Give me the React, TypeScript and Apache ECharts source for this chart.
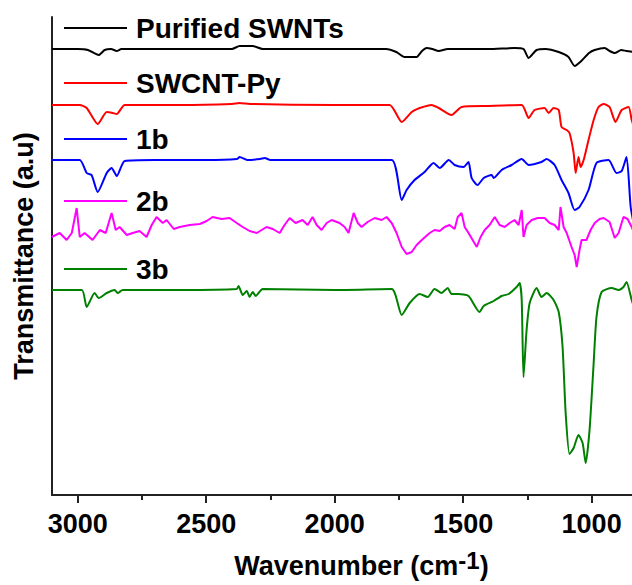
import React, { useEffect, useRef } from "react";
import * as echarts from "echarts";

// Series names (legend order)
const seriesNames = ["Purified SWNTs", "SWCNT-Py", "1b", "2b", "3b"];
const seriesColors = ["#000000", "#ff0000", "#0000ff", "#ff00ff", "#008000"];

// x-axis tick labels (wavenumber, cm-1)
const majorTicks = [1000, 1500, 2000, 2500, 3000];
const minorTicks = [1250, 1750, 2250, 2750];

// Spectra: [wavenumber, transmittance (a.u., offset)]
const purifiedSWNTs = [
  [3100, 446], [3000, 446], [2960, 445], [2918, 440], [2895, 445], [2870, 446], [2848, 444],
  [2830, 446], [2600, 446], [2400, 446], [2370, 449], [2319, 449], [2280, 446], [2000, 446],
  [1800, 446], [1760, 443], [1728, 438], [1681, 438], [1660, 444], [1642, 447], [1620, 446],
  [1595, 444], [1560, 446], [1400, 446], [1300, 447], [1265, 446], [1245, 437], [1214, 445],
  [1180, 446], [1128, 443], [1090, 438], [1066, 429], [1040, 434], [1010, 442], [988, 445],
  [949, 447], [930, 444], [910, 442], [885, 445], [864, 444], [835, 443],
];

const swcntPy = [
  [3100, 390], [2992, 390], [2965, 387], [2922, 371], [2887, 383], [2864, 382], [2848, 381],
  [2817, 390], [2600, 390], [2400, 391], [2370, 392], [2330, 391], [2000, 390], [1786, 390],
  [1739, 373], [1700, 383], [1669, 387], [1642, 389], [1623, 390], [1595, 387], [1545, 380],
  [1506, 388], [1400, 389], [1272, 390], [1245, 377], [1222, 385], [1183, 387], [1167, 382],
  [1148, 387], [1128, 385], [1117, 368], [1097, 365], [1086, 362], [1070, 342], [1062, 322],
  [1051, 338], [1043, 328], [1031, 335], [1012, 355], [992, 375], [973, 388], [953, 391],
  [930, 388], [907, 373], [883, 385], [856, 388], [844, 375], [835, 368],
];

const compound1b = [
  [3100, 335], [2992, 335], [2965, 322], [2946, 320], [2922, 303], [2887, 322], [2868, 327],
  [2848, 319], [2817, 334], [2700, 335], [2500, 335], [2380, 336], [2370, 338], [2340, 335],
  [2290, 336], [2272, 337], [2250, 335], [2000, 335], [1778, 335], [1739, 295], [1720, 305],
  [1689, 315], [1650, 323], [1615, 332], [1591, 327], [1556, 335], [1533, 330], [1498, 328],
  [1479, 333], [1467, 317], [1444, 310], [1420, 317], [1389, 320], [1381, 317], [1350, 325],
  [1311, 330], [1272, 336], [1245, 330], [1195, 333], [1175, 336], [1144, 330], [1117, 315],
  [1090, 302], [1066, 285], [1047, 288], [1012, 305], [981, 332], [934, 335], [903, 322],
  [883, 324], [864, 338], [848, 288], [835, 270],
];

const compound2b = [
  [3101, 258], [3070, 262], [3043, 255], [3023, 262], [3004, 287], [2992, 258], [2973, 262],
  [2942, 255], [2914, 265], [2891, 262], [2868, 282], [2852, 265], [2837, 268], [2809, 260],
  [2786, 262], [2759, 264], [2732, 258], [2712, 270], [2693, 278], [2669, 272], [2654, 275],
  [2626, 266], [2603, 268], [2564, 270], [2525, 271], [2498, 274], [2475, 278], [2440, 276],
  [2409, 277], [2381, 272], [2358, 268], [2331, 264], [2303, 262], [2284, 265], [2265, 268],
  [2241, 266], [2214, 262], [2195, 270], [2175, 277], [2152, 272], [2125, 275], [2105, 270],
  [2086, 278], [2070, 270], [2051, 265], [2031, 272], [2012, 275], [1981, 272], [1961, 268],
  [1946, 262], [1926, 282], [1910, 272], [1895, 268], [1872, 273], [1844, 277], [1817, 275],
  [1798, 278], [1778, 272], [1759, 262], [1739, 248], [1720, 241], [1700, 243], [1681, 250],
  [1661, 255], [1630, 262], [1611, 265], [1591, 264], [1572, 268], [1553, 270], [1533, 266],
  [1521, 278], [1506, 282], [1494, 268], [1479, 262], [1463, 255], [1447, 248], [1432, 258],
  [1416, 265], [1397, 270], [1377, 278], [1358, 270], [1338, 268], [1319, 272], [1300, 275],
  [1284, 270], [1272, 285], [1265, 258], [1253, 270], [1233, 275], [1210, 277], [1183, 277],
  [1163, 272], [1144, 270], [1128, 265], [1121, 288], [1109, 268], [1097, 262], [1078, 248],
  [1066, 240], [1058, 228], [1047, 245], [1039, 255], [1020, 255], [1004, 265], [988, 272],
  [969, 276], [953, 277], [930, 273], [910, 257], [895, 262], [876, 278], [860, 276],
  [844, 268], [835, 262],
];

const compound3b = [
  [3100, 205], [2984, 205], [2965, 188], [2934, 202], [2918, 197], [2887, 202], [2856, 205],
  [2844, 202], [2825, 205], [2600, 205], [2381, 206], [2374, 209], [2358, 200], [2342, 204],
  [2331, 198], [2319, 203], [2307, 199], [2280, 206], [2000, 205], [1778, 206], [1739, 180],
  [1708, 192], [1669, 201], [1638, 198], [1611, 206], [1584, 202], [1560, 207], [1545, 201],
  [1518, 201], [1479, 199], [1436, 183], [1420, 189], [1381, 194], [1350, 199], [1323, 201],
  [1292, 208], [1280, 212], [1272, 195], [1265, 118], [1253, 165], [1241, 192], [1214, 207],
  [1195, 198], [1175, 202], [1148, 195], [1128, 183], [1113, 148], [1101, 82], [1086, 41],
  [1070, 47], [1051, 60], [1035, 52], [1023, 32], [1008, 65], [992, 132], [981, 178],
  [961, 203], [922, 207], [895, 205], [876, 208], [864, 213], [844, 195], [835, 188],
];

const seriesData = [purifiedSWNTs, swcntPy, compound1b, compound2b, compound3b];
const legendTops = [14, 69, 125, 187, 255];

const FONT = "Arial, 'Liberation Sans', sans-serif";

export default function App() {
  const ref = useRef<HTMLDivElement>(null);
  useEffect(() => {
    if (!ref.current) return;
    const chart = echarts.init(ref.current, undefined, { renderer: "svg" });
    const legends = seriesNames.map((n, i) => ({
      show: true,
      data: [n],
      left: 64,
      top: legendTops[i],
      padding: 0,
      orient: "horizontal",
      icon: "rect",
      itemWidth: 63,
      itemHeight: 2,
      selectedMode: false,
      textStyle: {
        fontSize: 28,
        fontWeight: "bold",
        fontFamily: FONT,
        color: "#000",
        lineHeight: 28,
        padding: [0, 0, 0, 4],
      },
    }));
    const option: any = {
      animation: false,
      backgroundColor: "#ffffff",
      legend: legends,
      grid: {
        left: 52,
        right: -11,
        top: 17,
        bottom: 90,
        containLabel: false,
        outerBoundsMode: "none",
      },
      xAxis: [
        {
          type: "value",
          min: 800,
          max: 3100,
          inverse: true,
          position: "bottom",
          name: "{a|Wavenumber (cm}{s|-1}{a|)}",
          nameLocation: "middle",
          nameGap: 56,
          nameTextStyle: {
            padding: [0, 0, 0, 28],
            rich: {
              a: { fontSize: 27, fontWeight: "bold", fontFamily: FONT, color: "#000", lineHeight: 30 },
              s: { fontSize: 24, fontWeight: "bold", fontFamily: FONT, color: "#000", lineHeight: 24, padding: [0, 0, 11, 0] },
            },
          },
          axisLine: { show: true, lineStyle: { color: "#222", width: 2 } },
          axisTick: { show: true, inside: false, length: 8, customValues: majorTicks, lineStyle: { color: "#222", width: 2 } },
          axisLabel: {
            show: true,
            customValues: majorTicks,
            formatter: (v: number) => String(v),
            margin: 15,
            fontSize: 27,
            fontWeight: "bold",
            fontFamily: FONT,
            color: "#000",
          },
          splitLine: { show: false },
        },
        {
          type: "value",
          min: 800,
          max: 3100,
          inverse: true,
          position: "bottom",
          axisLine: { show: false },
          axisTick: { show: true, inside: false, length: 5, customValues: minorTicks, lineStyle: { color: "#222", width: 2 } },
          axisLabel: { show: false },
          splitLine: { show: false },
        },
      ],
      yAxis: {
        type: "value",
        min: 0,
        max: 478,
        name: "Transmittance (a.u)",
        nameLocation: "middle",
        nameGap: 15,
        nameTextStyle: { fontSize: 27, fontWeight: "bold", fontFamily: FONT, color: "#000", lineHeight: 27 },
        axisLine: { show: true, lineStyle: { color: "#222", width: 2 } },
        axisTick: { show: false },
        axisLabel: { show: false },
        splitLine: { show: false },
      },
      series: seriesNames.map((n, i) => ({
        name: n,
        type: "line",
        xAxisIndex: 0,
        data: seriesData[i],
        showSymbol: false,
        symbol: "none",
        smooth: i === 3 ? false : 0.2,
        color: seriesColors[i],
        itemStyle: { color: seriesColors[i] },
        lineStyle: { color: seriesColors[i], width: 2 },
        z: 2 + i,
      })),
    };
    chart.setOption(option);
    return () => chart.dispose();
  }, []);
  return (
    <div
      ref={ref}
      style={{ position: "fixed", left: 0, top: 0, width: 632, height: 585, background: "#fff" }}
    />
  );
}
